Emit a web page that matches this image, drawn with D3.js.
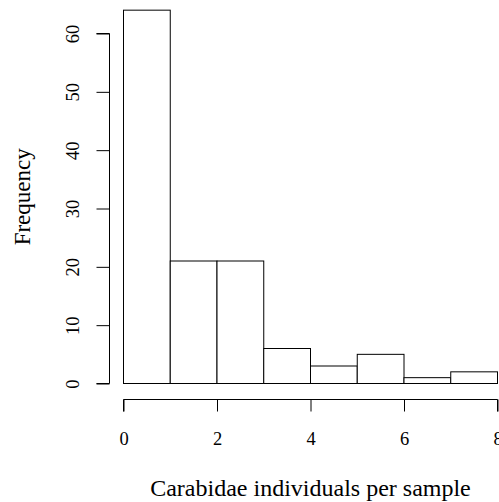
<!DOCTYPE html>
<html>
<head>
<meta charset="utf-8">
<script src="https://cdn.jsdelivr.net/npm/d3@7"></script>
<style>
  html, body { margin: 0; padding: 0; background: #fff; }
  svg { display: block; }
  text { font-family: "Liberation Serif", "Times New Roman", serif; fill: #000; }
</style>
</head>
<body>
<svg id="chart" width="499" height="502"></svg>
<script>
// Histogram bins (lower/upper edges) and their counts
const binStarts = [0, 1, 2, 3, 4, 5, 6, 7];
const binEnds   = [1, 2, 3, 4, 5, 6, 7, 8];
const counts    = [64, 21, 21, 6, 3, 5, 1, 2];

// Axis tick values
const xTicks = [0, 2, 4, 6, 8];
const yTicks = [0, 10, 20, 30, 40, 50, 60];

const xLabel = "Carabidae individuals per sample";
const yLabel = "Frequency";

const bins = binStarts.map((s, i) => ({ x0: s, x1: binEnds[i], n: counts[i] }));

const svg = d3.select("#chart");

const x = d3.scaleLinear().domain([0, 8]).range([123.5, 497.5]);
const y = d3.scaleLinear().domain([0, 60]).range([383.5, 33.5]);

// Bars
svg.append("g")
  .selectAll("rect")
  .data(bins)
  .join("rect")
  .attr("x", d => x(d.x0))
  .attr("y", d => y(d.n))
  .attr("width", d => x(d.x1) - x(d.x0))
  .attr("height", d => y(0) - y(d.n))
  .attr("fill", "#fff")
  .attr("stroke", "#000")
  .attr("stroke-width", 1);

// x axis (below the plot, detached like base R graphics)
const xAxis = svg.append("g")
  .attr("transform", "translate(0,399.5)")
  .call(d3.axisBottom(x).tickValues(xTicks).tickSize(12).tickFormat(d3.format("d")));
xAxis.selectAll("path, line").attr("stroke", "#000");
xAxis.select(".domain").attr("d", `M${x(0)},12V0H${x(8)}V12`);
xAxis.selectAll("text")
  .attr("y", 45.5).attr("dy", null)
  .style("font-size", "18.5px")
  .style("font-family", "'Liberation Serif', serif");

// y axis
const yAxis = svg.append("g")
  .attr("transform", "translate(109.5,0)")
  .call(d3.axisLeft(y).tickValues(yTicks).tickSize(13).tickPadding(0).tickFormat(d3.format("d")));
yAxis.selectAll("path, line").attr("stroke", "#000");
yAxis.select(".domain").attr("d", `M-13,${y(0)}H0V${y(60)}H-13`);
yAxis.selectAll("text")
  .attr("x", null).attr("dy", null)
  .attr("text-anchor", "middle")
  .attr("transform", "translate(-30.5,0) rotate(-90)")
  .style("font-size", "18.5px")
  .style("font-family", "'Liberation Serif', serif");

// Axis titles
svg.append("text")
  .attr("x", x(4))
  .attr("y", 496)
  .attr("text-anchor", "middle")
  .style("font-size", "24px")
  .text(xLabel);

svg.append("text")
  .attr("transform", `translate(30,${y(32)}) rotate(-90)`)
  .attr("text-anchor", "middle")
  .style("font-size", "23px")
  .text(yLabel);
</script>
</body>
</html>
